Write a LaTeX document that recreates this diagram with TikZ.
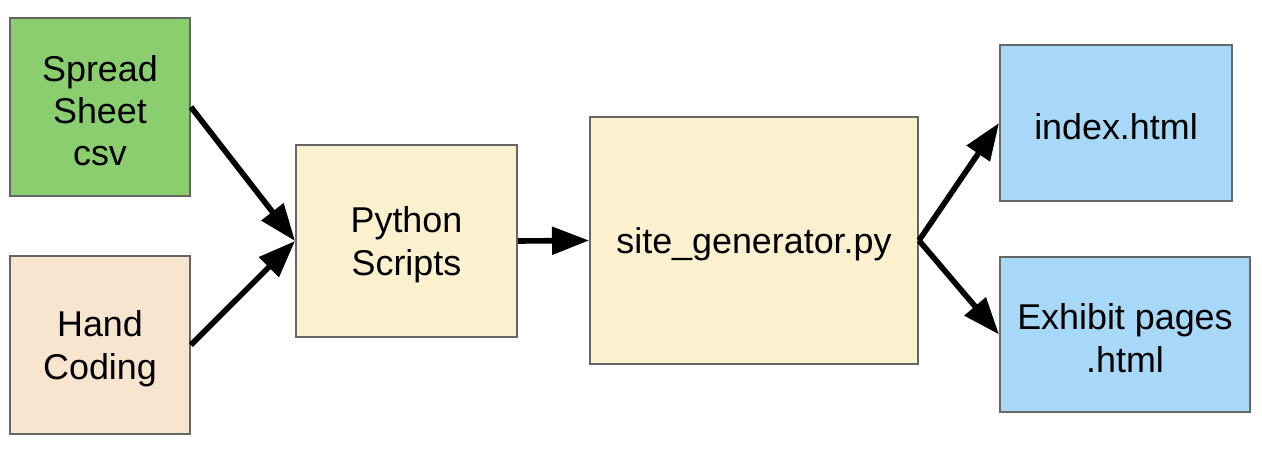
\documentclass[tikz,border=0pt]{standalone}
\usepackage{fontspec}
\setmainfont{Liberation Sans}
\usetikzlibrary{arrows.meta,positioning}

\definecolor{sheetgreen}{RGB}{138,206,112}
\definecolor{handpeach}{RGB}{248,229,208}
\definecolor{scriptyellow}{RGB}{252,241,207}
\definecolor{pageblue}{RGB}{168,216,248}
\definecolor{boxline}{RGB}{102,102,102}

\newcommand{\lift}{\rule{0pt}{0.93em}}

\begin{document}
\begin{tikzpicture}[x=0.01cm,y=-0.01cm,
  font=\fontsize{10.2pt}{12pt}\selectfont,
  box/.style={rectangle,draw=boxline,line width=0.5pt,align=center,inner sep=0},
  flow/.style={-{Triangle[length=3.7mm,width=2.7mm]},line width=1.6pt,black}]

\useasboundingbox (0,0) rectangle (1262,452);

%% sources
\node[box,fill=sheetgreen,minimum width=1.8cm,minimum height=1.78cm] (sheet) at (100,107) {\lift Spread\\Sheet\\csv};
\node[box,fill=handpeach,minimum width=1.8cm,minimum height=1.78cm] (hand) at (100,345) {\lift Hand\\Coding};

%% processing
\node[box,fill=scriptyellow,minimum width=2.21cm,minimum height=1.92cm] (scripts) at (406.5,241) {\lift Python\\Scripts};
\node[box,fill=scriptyellow,minimum width=3.28cm,minimum height=2.47cm] (gen) at (754,240.5) {\lift site\_generator.py};

%% outputs
\node[box,fill=pageblue,minimum width=2.32cm,minimum height=1.56cm] (index) at (1116,123) {\lift index.html};
\node[box,fill=pageblue,minimum width=2.5cm,minimum height=1.55cm] (pages) at (1125,334.5) {\lift Exhibit pages\\.html};

%% connectors
\draw[flow] (sheet.east) -- (scripts.west);
\draw[flow] (hand.east) -- (scripts.west);
\draw[flow] (scripts.east) -- (gen.west);
\draw[flow] (gen.east) -- (index.west);
\draw[flow] (gen.east) -- (pages.west);
\end{tikzpicture}
\end{document}
